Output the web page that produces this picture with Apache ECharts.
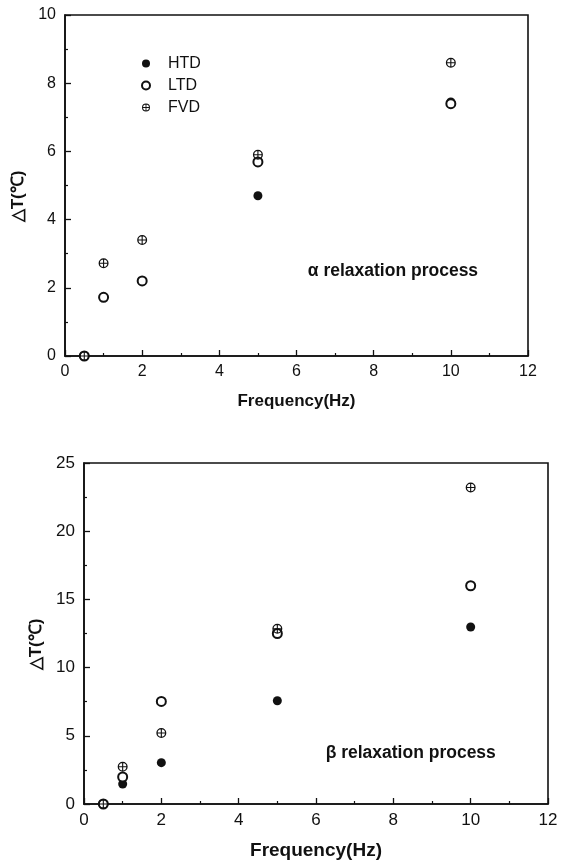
<!DOCTYPE html>
<html>
<head>
<meta charset="utf-8">
<script src="https://cdn.jsdelivr.net/npm/echarts@6/dist/echarts.min.js"></script>
<style>html,body{margin:0;padding:0;background:#fff;}#c{width:567px;height:866px;}</style>
</head>
<body>
<div id="c"></div>
<script>
// ---- data ----
const freq = [0.5, 1, 2, 5, 10];
const alphaHTD = [0, 1.72, 2.2, 4.7, 7.45];
const alphaLTD = [0, 1.72, 2.2, 5.69, 7.4];
const alphaFVD = [0, 2.72, 3.4, 5.9, 8.6];
const betaHTD = [0, 1.47, 3.03, 7.57, 12.98];
const betaLTD = [0, 1.98, 7.52, 12.5, 16.0];
const betaFVD = [0, 2.73, 5.2, 12.85, 23.2];
const seriesNames = ['HTD', 'LTD', 'FVD'];
const xTicks = [0, 2, 4, 6, 8, 10, 12];
const yTicksAlpha = [0, 2, 4, 6, 8, 10];
const yTicksBeta = [0, 5, 10, 15, 20, 25];
const xTitle = 'Frequency(Hz)';
const yTitle = '△T(℃)';
const alphaNote = { text: 'α relaxation process', x: 8.5, y: 2.5 };
const betaNote = { text: 'β relaxation process', x: 8.45, y: 3.75 };

// ---- styles ----
const FONT = '"Liberation Sans", Arial, sans-serif';
const INK = '#111';
const crossCircle = 'path://M10,0A10,10 0 1,1 10,20A10,10 0 1,1 10,0Z M10,2.6A7.4,7.4 0 1,0 10,17.4A7.4,7.4 0 1,0 10,2.6Z M8.9,1L11.1,1L11.1,19L8.9,19Z M1,8.9L19,8.9L19,11.1L1,11.1Z';
const symbols = ['circle', 'emptyCircle', crossCircle];

function pts(xs, ys) { return xs.map((x, i) => [x, ys[i]]); }

function makeX(gi, fs) {
  return {
    type: 'value', gridIndex: gi, min: xTicks[0], max: xTicks[xTicks.length - 1],
    interval: xTicks[1] - xTicks[0],
    name: xTitle, nameLocation: 'middle', nameGap: gi === 0 ? 37 : 37,
    nameTextStyle: { fontFamily: FONT, fontWeight: 'bold', fontSize: gi === 0 ? 17 : 19, color: INK },
    axisLine: { show: true, onZero: false, lineStyle: { color: INK, width: 1.6 } },
    axisTick: { show: true, inside: true, length: 6, lineStyle: { color: INK, width: 1.3 } },
    minorTick: { show: true, splitNumber: 2, length: 3, lineStyle: { color: INK, width: 1.2 } },
    axisLabel: { fontFamily: FONT, fontSize: fs, color: INK, margin: 8 },
    splitLine: { show: false }
  };
}
function makeY(gi, ticks, fs) {
  return {
    type: 'value', gridIndex: gi, min: ticks[0], max: ticks[ticks.length - 1],
    interval: ticks[1] - ticks[0],
    name: yTitle, nameLocation: 'middle', nameGap: 37,
    nameTextStyle: { fontFamily: FONT, fontWeight: 'bold', fontSize: 17, color: INK, padding: [0, 22, 0, 0] },
    axisLine: { show: true, onZero: false, lineStyle: { color: INK, width: 1.6 } },
    axisTick: { show: true, inside: true, length: 6, lineStyle: { color: INK, width: 1.3 } },
    minorTick: { show: true, splitNumber: 2, length: 3, lineStyle: { color: INK, width: 1.2 } },
    axisLabel: { fontFamily: FONT, fontSize: fs, color: INK, margin: 9 },
    splitLine: { show: false }
  };
}
function makeSeries(gi, arrs) {
  return arrs.map((ys, k) => ({
    name: seriesNames[k], type: 'scatter', xAxisIndex: gi, yAxisIndex: gi,
    symbol: symbols[k], symbolSize: k === 2 ? 10 : 9, clip: false,
    itemStyle: k === 1 ? { color: INK, borderColor: INK, borderWidth: 1.3, opacity: 1 } : { color: INK, opacity: 1 },
    data: pts(freq, ys), z: 3 + k
  }));
}
function noteSeries(gi, note) {
  return {
    type: 'scatter', xAxisIndex: gi, yAxisIndex: gi, symbolSize: 0, silent: true,
    itemStyle: { opacity: 1 },
    data: [[note.x, note.y]],
    label: { show: true, position: 'inside', formatter: note.text, fontFamily: FONT,
      fontWeight: 'bold', fontSize: 17.5, color: INK }
  };
}

const chart = echarts.init(document.getElementById('c'), null, { renderer: 'canvas' });
chart.setOption({
  backgroundColor: '#fff',
  animation: false,
  grid: [
    { left: 65, top: 15, width: 463, height: 341, show: true, borderColor: INK, borderWidth: 1.6, backgroundColor: 'transparent' },
    { left: 84, top: 463, width: 464, height: 341, show: true, borderColor: INK, borderWidth: 1.6, backgroundColor: 'transparent' }
  ],
  legend: {
    data: seriesNames, orient: 'vertical', left: 136, top: 50, itemGap: 5,
    itemWidth: 8, itemHeight: 8,
    textStyle: { fontFamily: FONT, fontSize: 16, color: INK, lineHeight: 17, padding: [0, 0, 0, 13] }
  },
  xAxis: [makeX(0, 16), makeX(1, 17)],
  yAxis: [makeY(0, yTicksAlpha, 16), makeY(1, yTicksBeta, 17)],
  series: [
    ...makeSeries(0, [alphaHTD, alphaLTD, alphaFVD]),
    ...makeSeries(1, [betaHTD, betaLTD, betaFVD]),
    noteSeries(0, alphaNote),
    noteSeries(1, betaNote)
  ]
});
</script>
</body>
</html>
